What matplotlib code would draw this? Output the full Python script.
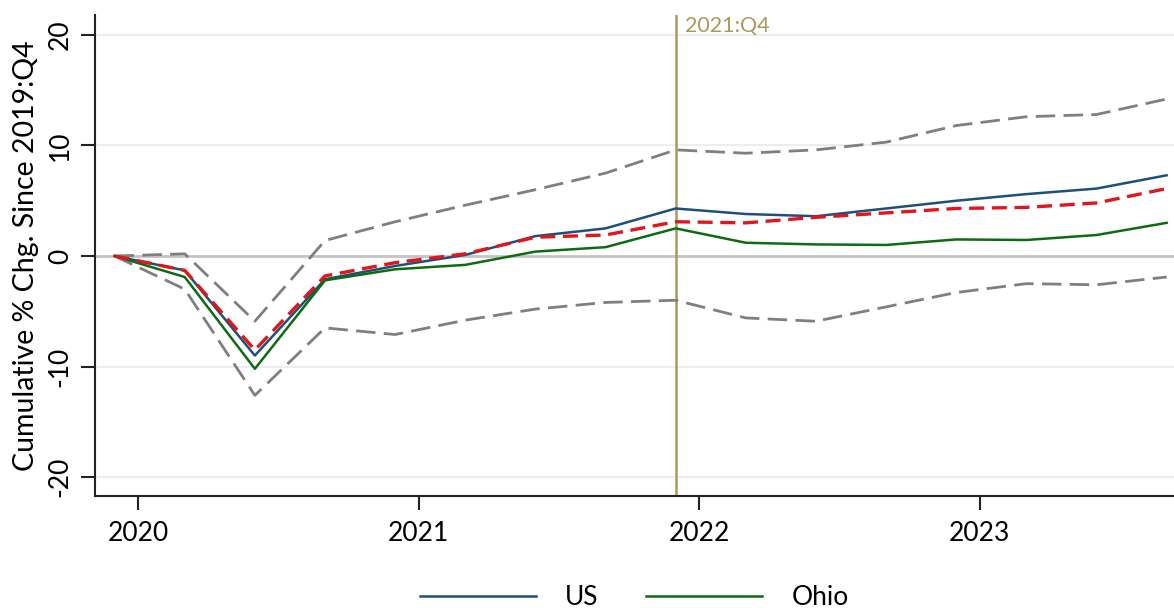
import numpy as np
import matplotlib
matplotlib.use("Agg")
import matplotlib.pyplot as plt

# quarters 2019:Q4 .. 2023:Q3
quarters = ["2019Q4", "2020Q1", "2020Q2", "2020Q3", "2020Q4", "2021Q1", "2021Q2", "2021Q3",
            "2021Q4", "2022Q1", "2022Q2", "2022Q3", "2022Q4", "2023Q1", "2023Q2", "2023Q3"]

us = [0, -1.3, -9.0, -2.1, -0.9, 0.1, 1.8, 2.5, 4.3, 3.8, 3.6, 4.3, 5.0, 5.6, 6.1, 7.3]
ohio = [0, -1.9, -10.2, -2.2, -1.2, -0.8, 0.4, 0.8, 2.5, 1.2, 1.05, 1.0, 1.5, 1.45, 1.9, 3.0]
est = [0, -1.3, -8.5, -1.8, -0.6, 0.2, 1.7, 1.9, 3.1, 3.0, 3.5, 3.9, 4.3, 4.4, 4.8, 6.1]
upper = [0, 0.2, -5.9, 1.4, 3.1, 4.6, 6.0, 7.5, 9.6, 9.3, 9.6, 10.3, 11.8, 12.6, 12.8, 14.2]
lower = [0, -3.0, -12.6, -6.5, -7.1, -5.8, -4.8, -4.2, -4.0, -5.6, -5.9, -4.6, -3.3, -2.5, -2.6, -1.9]

year_ticks = [2020, 2021, 2022, 2023]
y_ticks = [-20, -10, 0, 10, 20]
mark_q = "2021Q4"

def qpos(q):
	# quarter plotted at its last month
	yr = int(q[:4])
	n = int(q[-1])
	return yr + (3 * n - 1) / 12.0

x = np.array([qpos(q) for q in quarters])

plt.rcParams['font.family'] = ['Lato', 'DejaVu Sans']

fig = plt.figure(figsize=(11.74, 6.10), dpi=100)
ax = fig.add_axes([0.0809, 0.187, 0.9191, 0.7884])

for yv in y_ticks:
	if yv == 0:
		ax.axhline(yv, color='#c4c4c4', lw=2.0, zorder=1)
	else:
		ax.axhline(yv, color='#e8eff0', lw=1.5, zorder=1)

ax.plot(x, upper, color='#7f7f7f', lw=2.0, dashes=(7, 3), zorder=3)
ax.plot(x, lower, color='#7f7f7f', lw=2.0, dashes=(7, 3), zorder=3)
ax.plot(x, us, color='#1f4e79', lw=1.8, label='US', zorder=4)
ax.plot(x, ohio, color='#0e6b12', lw=1.8, label='Ohio', zorder=4)
ax.plot(x, est, color='#e0161c', lw=2.4, dashes=(4.5, 2.3), zorder=5)

xm = qpos(mark_q)
ax.axvline(xm, color='#a89a5a', lw=1.8, zorder=2)
ax.text(xm + 0.035, 21.7, "2021:Q4", color='#a89a5a', fontsize=15.5, va='top', ha='left')

ax.set_xlim(2019.8467, 2023.693)
ax.set_ylim(-21.7, 21.8)
ax.set_xticks(year_ticks)
ax.set_xticklabels([str(v) for v in year_ticks], fontsize=19)
ax.set_yticks(y_ticks)
ax.set_yticklabels([str(v) for v in y_ticks], fontsize=19, rotation=90, va='center')
ax.tick_params(axis='both', length=10, width=1.5, color='#222222')
ax.tick_params(axis='x', pad=8)
ax.tick_params(axis='y', pad=6)

for s in ['top', 'right']:
	ax.spines[s].set_visible(False)
for s in ['left', 'bottom']:
	ax.spines[s].set_linewidth(1.5)
	ax.spines[s].set_color('#222222')

ax.set_ylabel("Cumulative % Chg. Since 2019:Q4", fontsize=20.5, labelpad=6)

ax.legend(loc='center', bbox_to_anchor=(0.5, -0.212), ncol=2, frameon=False,
		  fontsize=19, handlelength=4.4, columnspacing=1.8, handletextpad=1.1,
		  borderpad=0)

fig.savefig('out.png', dpi=100)
plt.close()
